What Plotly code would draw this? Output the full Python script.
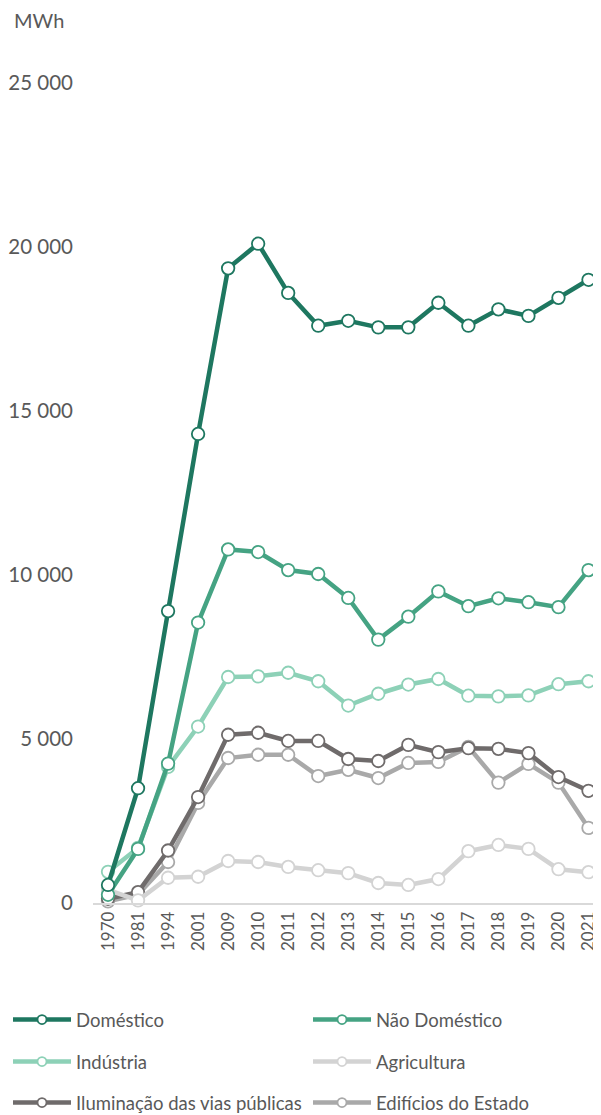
import plotly.graph_objects as go

years = ["1970", "1981", "1994", "2001", "2009", "2010", "2011", "2012", "2013",
         "2014", "2015", "2016", "2017", "2018", "2019", "2020", "2021"]

domestico = [550, 3500, 8900, 14300, 19350, 20100, 18600, 17600, 17750, 17550, 17550,
             18300, 17600, 18100, 17900, 18450, 19000]
nao_domestico = [250, 1650, 4250, 8550, 10780, 10700, 10150, 10030, 9300, 8030, 8730,
                 9500, 9050, 9290, 9170, 9020, 10150]
industria = [950, 1680, 4150, 5380, 6890, 6910, 7020, 6760, 6020, 6380, 6660,
             6830, 6320, 6300, 6330, 6670, 6760]
agricultura = [400, 80, 770, 800, 1280, 1250, 1100, 1000, 910, 610, 550,
               730, 1580, 1770, 1650, 1030, 940]
iluminacao = [130, 330, 1600, 3230, 5130, 5190, 4940, 4940, 4390, 4330, 4820,
              4600, 4720, 4700, 4570, 3840, 3420]
edificios = [50, 260, 1250, 3050, 4420, 4520, 4520, 3870, 4060, 3810, 4270,
             4300, 4760, 3670, 4240, 3670, 2290]

y_ticks = [0, 5000, 10000, 15000, 20000, 25000]
y_tick_labels = ["0", "5 000", "10 000", "15 000", "20 000", "25 000"]

series = [
    ("Doméstico", domestico, "#1e7760"),
    ("Não Doméstico", nao_domestico, "#45a383"),
    ("Indústria", industria, "#8dd1b7"),
    ("Agricultura", agricultura, "#d3d3d3"),
    ("Iluminação das vias públicas", iluminacao, "#6f6b6b"),
    ("Edifícios do Estado", edificios, "#a9a9a9"),
]
legend_ids = ["legend", "legend2", "legend3", "legend4", "legend5", "legend6"]

# page has an 8px body margin: figure is drawn from (8, 8)
OFF = 8
W, H = 601 - OFF, 1115 - OFF
PL, PR, PT, PB = 85, 2, 75, 212
PW = W - PL - PR
PH = H - PT - PB

fig = go.Figure()
for i in reversed(range(len(series))):
    name, vals, color = series[i]
    fig.add_trace(go.Scatter(
        x=years, y=vals, name=name, mode="lines+markers",
        line=dict(color=color, width=4.5),
        marker=dict(size=12.5, color="white", line=dict(color=color, width=1.8)),
        cliponaxis=False, showlegend=False,
    ))
# legend entries (smaller marker, as in the reference legend)
for i, (name, vals, color) in enumerate(series):
    fig.add_trace(go.Scatter(
        x=[None], y=[None], name=name, mode="lines+markers",
        line=dict(color=color, width=4.5),
        marker=dict(size=9, color="white", line=dict(color=color, width=1.8)),
        showlegend=True, legend=legend_ids[i],
    ))

font_color = "#595959"
leg_common = dict(orientation="h", xanchor="left", yanchor="middle",
                  itemwidth=58,
                  font=dict(family="Lato", size=18.5, color=font_color),
                  bgcolor="rgba(0,0,0,0)",
                  itemclick=False, itemdoubleclick=False)

col_x = [13, 313]            # page px where the legend symbol starts
row_y = [1020, 1062, 1103]   # page px of row centres
legends = {}
for i, lid in enumerate(legend_ids):
    r, c = divmod(i, 2)
    fx = col_x[c] - OFF - 5
    fy = row_y[r] - OFF
    legends[lid] = dict(x=(fx - PL) / PW, y=(H - PB - fy) / PH, **leg_common)

fig.update_layout(
    width=W, height=H,
    margin=dict(l=PL, r=PR, t=PT, b=PB, autoexpand=False),
    plot_bgcolor="white", paper_bgcolor="white",
    font=dict(family="Lato", color=font_color),
    showlegend=True,
    xaxis=dict(type="category", range=[-0.5, 16.35], tickangle=-90,
               tickfont=dict(size=17, color=font_color), showgrid=False,
               showline=True, linecolor="#d9d9d9", linewidth=1.5, ticks="",
               zeroline=False, automargin=False),
    yaxis=dict(range=[0, 25000], tickvals=y_ticks, ticktext=y_tick_labels,
               tickfont=dict(size=20.5, color=font_color), showgrid=False,
               zeroline=False, showline=False, ticks="", ticklabelstandoff=19,
               automargin=False),
    annotations=[dict(text="MWh", xref="paper", yref="paper",
                      x=(12 - OFF - PL) / PW, y=(H - PB - (20 - OFF)) / PH,
                      xanchor="left", yanchor="middle", showarrow=False,
                      font=dict(family="Lato", size=20, color=font_color))],
)
fig.update_layout(**legends)

fig.write_html("out.html")
